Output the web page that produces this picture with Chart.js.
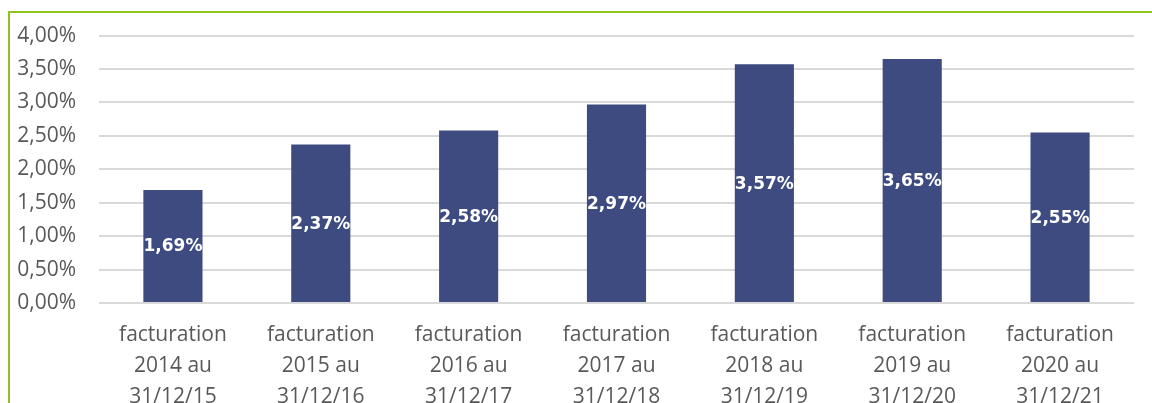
<!DOCTYPE html>
<html>
<head>
<meta charset="utf-8">
<script src="https://cdn.jsdelivr.net/npm/chart.js@4"></script>
<style>
  html, body { margin: 0; padding: 0; background: #fff; }
  #wrap { position: relative; width: 1152px; height: 403px; }
</style>
</head>
<body>
<div id="wrap"><canvas id="chart"></canvas></div>
<script>
const categories = [
  ['facturation', '2014 au', '31/12/15'],
  ['facturation', '2015 au', '31/12/16'],
  ['facturation', '2016 au', '31/12/17'],
  ['facturation', '2017 au', '31/12/18'],
  ['facturation', '2018 au', '31/12/19'],
  ['facturation', '2019 au', '31/12/20'],
  ['facturation', '2020 au', '31/12/21'],
];
const values = [1.69, 2.37, 2.58, 2.97, 3.57, 3.65, 2.55];
const yTickLabels = ['0,00%', '0,50%', '1,00%', '1,50%', '2,00%', '2,50%', '3,00%', '3,50%', '4,00%'];

const formatPct = v => v.toFixed(2).replace('.', ',') + '%';

// green frame on top and left edge
const framePlugin = {
  id: 'frame',
  beforeDraw: chart => {
    const ctx = chart.ctx;
    ctx.save();
    ctx.strokeStyle = '#8fc31f';
    ctx.lineWidth = 2;
    ctx.beginPath();
    ctx.moveTo(9, 403);
    ctx.lineTo(9, 12);
    ctx.lineTo(1152, 12);
    ctx.stroke();
    ctx.restore();
  },
};

// value labels in the middle of each bar
const barLabels = {
  id: 'barLabels',
  afterDatasetsDraw: chart => {
    const ctx = chart.ctx;
    const meta = chart.getDatasetMeta(0);
    ctx.save();
    ctx.fillStyle = '#ffffff';
    ctx.font = 'bold 17px "DejaVu Sans"';
    ctx.textAlign = 'center';
    ctx.textBaseline = 'middle';
    meta.data.forEach((bar, i) => {
      const y = (bar.y + bar.base) / 2 + 1;
      ctx.fillText(formatPct(values[i]), bar.x, y);
    });
    ctx.restore();
  },
};

new Chart(document.getElementById('chart'), {
  type: 'bar',
  data: {
    labels: categories,
    datasets: [
      {
        data: values,
        backgroundColor: '#3d4b81',
        borderWidth: 0,
        barPercentage: 0.4,
        categoryPercentage: 1,
      },
    ],
  },
  options: {
    responsive: true,
    maintainAspectRatio: false,
    animation: false,
    layout: {
      padding: { top: 33, right: 18, bottom: 0, left: 0 },
    },
    plugins: {
      legend: { display: false },
      tooltip: { enabled: false },
    },
    scales: {
      x: {
        grid: { display: false, drawTicks: false },
        border: { display: false },
        ticks: {
          color: '#595959',
          padding: 16,
          maxRotation: 0,
          autoSkip: false,
          font: { family: '"Open Sans"', size: 21, lineHeight: 1.49 },
        },
        afterFit: scale => {
          scale.height = 100;
        },
      },
      y: {
        min: 0,
        max: 4,
        grid: { color: '#d9d9d9', lineWidth: 2, drawTicks: false },
        border: { display: false },
        ticks: {
          stepSize: 0.5,
          color: '#595959',
          padding: 23,
          font: { family: '"Open Sans"', size: 21 },
          callback: (value, index) => yTickLabels[index],
        },
        afterFit: scale => {
          scale.width = 99;
        },
      },
    },
  },
  plugins: [framePlugin, barLabels],
});
</script>
</body>
</html>
